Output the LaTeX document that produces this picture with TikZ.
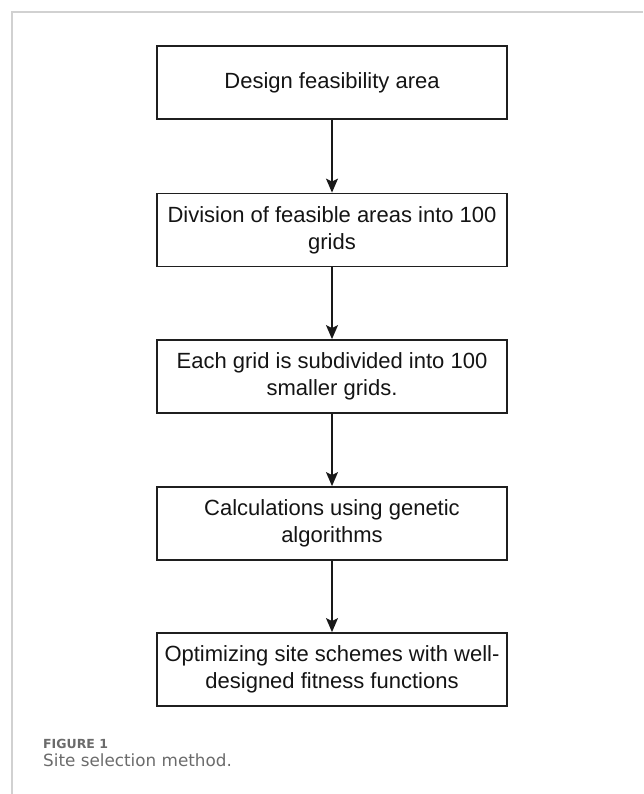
\documentclass[tikz,border=0pt]{standalone}
\usepackage{fontspec}
\setmainfont{Liberation Sans}
\newfontfamily\capfont{DejaVu Sans}
\usetikzlibrary{arrows.meta}
\begin{document}
\begin{tikzpicture}[x=1pt,y=-1pt,
  stepbox/.style={draw=black!88, line width=1.8pt, minimum width=350pt, minimum height=73pt,
    inner sep=0pt, align=center, font=\fontsize{22}{27}\selectfont, text=black!92},
  flow/.style={draw=black!90, line width=1.4pt, -{Stealth[length=14pt,width=12pt,inset=3pt]}},
  captxt/.style={anchor=base west, inner sep=0pt, text=black!58}]
\useasboundingbox (0,0) rectangle (643,794);
\draw[line width=1.5pt, draw=black!18] (12,794) -- (12,12) -- (643,12);
\node[stepbox] (s1) at (332,82.5) {Design feasibility area};
\node[stepbox] (s2) at (332,230) {Division of feasible areas into 100\\grids};
\node[stepbox] (s3) at (332,376.5) {Each grid is subdivided into 100\\smaller grids.};
\node[stepbox] (s4) at (332,523.5) {Calculations using genetic\\algorithms};
\node[stepbox] (s5) at (332,669.5) {Optimizing site schemes with well-\\designed fitness functions};
\draw[flow] (s1) -- (s2);
\draw[flow] (s2) -- (s3);
\draw[flow] (s3) -- (s4);
\draw[flow] (s4) -- (s5);
\node[captxt, font=\capfont\bfseries\fontsize{12.5}{15}\selectfont] (figlab) at (43,748) {FIGURE 1};
\node[captxt, font=\capfont\fontsize{16.8}{20}\selectfont] (cap) at (43,766) {Site selection method.};
\end{tikzpicture}
\end{document}
